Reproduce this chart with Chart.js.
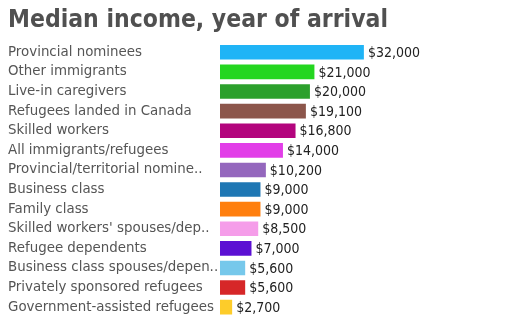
<!DOCTYPE html>
<html>
<head>
<meta charset="utf-8">
<title>Median income, year of arrival</title>
<script src="https://cdn.jsdelivr.net/npm/chart.js@4"></script>
<style>
  html, body { margin: 0; padding: 0; background: #fff; }
  #wrap { width: 527px; height: 325px; }
</style>
</head>
<body>
<div id="wrap"><canvas id="incomeChart" width="527" height="325"></canvas></div>
<script>
// categorie (testo gia' troncato come viene mostrato)
const categories = [
    'Provincial nominees',
    'Other immigrants',
    'Live-in caregivers',
    'Refugees landed in Canada',
    'Skilled workers',
    'All immigrants/refugees',
    'Provincial/territorial nomine..',
    'Business class',
    'Family class',
    "Skilled workers' spouses/dep..",
    'Refugee dependents',
    'Business class spouses/depen..',
    'Privately sponsored refugees',
    'Government-assisted refugees'
];

// reddito mediano, in dollari
const medianIncome = [32000, 21000, 20000, 19100, 16800, 14000, 10200, 9000, 9000, 8500, 7000, 5600, 5600, 2700];

// un colore per ogni barra
const barColors = [
    '#20b4f6', '#24d620', '#2ca02c', '#8c564b', '#b3057d', '#e23ee8', '#9467bd',
    '#1f77b4', '#ff7f0e', '#f59de9', '#5b10d3', '#76c8eb', '#d62728', '#fdcc2a'
];

// Plugin per scrivere il valore a destra di ogni barra
const valueLabels = {
    id: 'valueLabels',
    afterDatasetsDraw(chart) {
        const ctx = chart.ctx;
        const meta = chart.getDatasetMeta(0);
        ctx.save();
        ctx.font = '14px "DejaVu Sans Condensed", "DejaVu Sans"';
        ctx.fillStyle = '#222';
        ctx.textAlign = 'left';
        ctx.textBaseline = 'middle';
        meta.data.forEach((bar, i) => {
            const value = chart.data.datasets[0].data[i];
            ctx.fillText('$' + value.toLocaleString('en-US'), bar.x + 4, bar.y + 1);
        });
        ctx.restore();
    }
};

const ctx = document.getElementById('incomeChart').getContext('2d');
new Chart(ctx, {
    type: 'bar',
    data: {
        labels: categories,
        datasets: [{
            data: medianIncome,
            backgroundColor: barColors,
            borderWidth: 0,
            barPercentage: 0.745,
            categoryPercentage: 1
        }]
    },
    options: {
        indexAxis: 'y',
        responsive: false,
        animation: false,
        layout: {
            padding: { left: 8, right: 8, top: 0, bottom: 0 }
        },
        scales: {
            x: {
                display: false,
                min: 0,
                max: 66500 // lascia spazio a destra per le etichette
            },
            y: {
                grid: { display: false },
                border: { display: false },
                ticks: {
                    crossAlign: 'far',
                    padding: 0,
                    color: '#555',
                    font: { family: '"DejaVu Sans"', size: 13.4 }
                },
                afterFit(scale) {
                    scale.width = 212; // area del grafico parte a x=220
                }
            }
        },
        plugins: {
            legend: { display: false },
            tooltip: { enabled: false },
            title: {
                display: true,
                text: 'Median income, year of arrival',
                align: 'start',
                color: '#505050',
                font: { family: '"DejaVu Sans Condensed", "DejaVu Sans"', size: 24.5, weight: 'bold', lineHeight: 1.2 },
                padding: { top: 6.1, bottom: 7 }
            }
        }
    },
    plugins: [valueLabels]
});
</script>
</body>
</html>
